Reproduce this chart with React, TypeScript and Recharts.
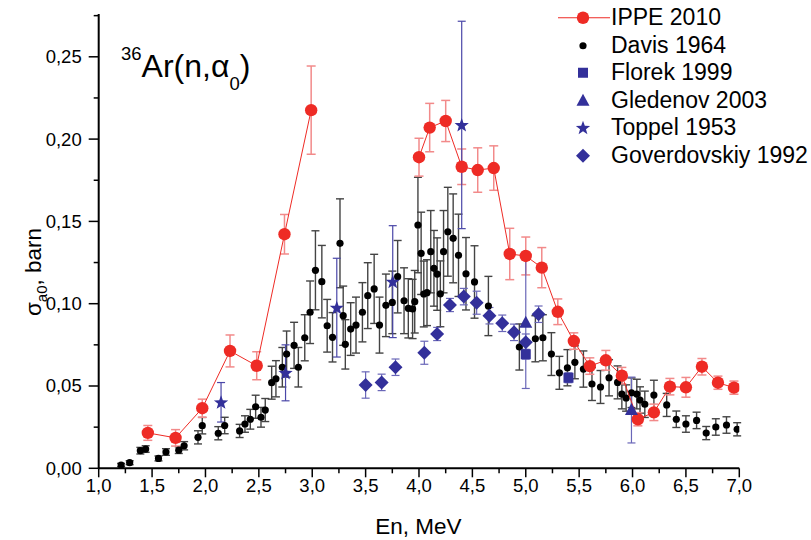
import React from "react"
import { ErrorBar, Scatter, ScatterChart, XAxis, YAxis } from "recharts"

// points: [En (MeV), sigma (barn), error]
const ippeLow = [
  [1.46, 0.0215, 0.0045], [1.72, 0.0185, 0.005], [1.97, 0.0365, 0.0055], [2.23, 0.0713, 0.0097],
  [2.48, 0.0623, 0.0085], [2.74, 0.1422, 0.012], [2.99, 0.2176, 0.0268],
]
const ippeHigh = [
  [4.0, 0.189, 0.0115], [4.1, 0.207, 0.0147], [4.25, 0.211, 0.0125], [4.4, 0.1832, 0.0108],
  [4.55, 0.1812, 0.0135], [4.7, 0.1824, 0.0135], [4.85, 0.1302, 0.0156], [5.0, 0.129, 0.0115],
  [5.15, 0.1219, 0.0122], [5.3, 0.0951, 0.0078], [5.45, 0.0773, 0.005], [5.6, 0.0621, 0.005],
  [5.75, 0.0656, 0.006], [5.9, 0.0563, 0.005], [6.05, 0.0298, 0.004], [6.2, 0.034, 0.005],
  [6.35, 0.0496, 0.005], [6.5, 0.0492, 0.006], [6.65, 0.0617, 0.005], [6.8, 0.052, 0.004],
  [6.95, 0.049, 0.004],
]
const davis = [
  [1.21, 0.002, 0.001], [1.29, 0.0034, 0.0012], [1.39, 0.0107, 0.002], [1.44, 0.0117, 0.002],
  [1.56, 0.006, 0.0015], [1.63, 0.0099, 0.002], [1.75, 0.011, 0.002], [1.8, 0.0137, 0.0025],
  [1.93, 0.0188, 0.004], [1.97, 0.0259, 0.005], [2.12, 0.0213, 0.004], [2.18, 0.026, 0.005],
  [2.32, 0.0227, 0.004], [2.37, 0.0269, 0.005], [2.42, 0.0298, 0.006], [2.47, 0.0374, 0.007],
  [2.52, 0.031, 0.006], [2.56, 0.0354, 0.007], [2.62, 0.052, 0.01], [2.66, 0.0544, 0.011],
  [2.72, 0.0614, 0.012], [2.76, 0.0694, 0.014], [2.83, 0.0747, 0.014], [2.87, 0.0614, 0.012],
  [2.93, 0.0793, 0.014], [2.98, 0.0948, 0.019], [3.03, 0.1203, 0.024], [3.09, 0.1134, 0.022],
  [3.14, 0.0866, 0.016], [3.19, 0.0796, 0.015], [3.26, 0.1367, 0.027], [3.29, 0.0927, 0.018],
  [3.31, 0.0753, 0.015], [3.36, 0.0846, 0.016], [3.41, 0.087, 0.017], [3.47, 0.0948, 0.018],
  [3.52, 0.1049, 0.02], [3.58, 0.109, 0.021], [3.63, 0.087, 0.017], [3.69, 0.099, 0.019],
  [3.75, 0.1008, 0.019], [3.8, 0.1164, 0.022], [3.86, 0.1018, 0.02], [3.9, 0.0972, 0.018],
  [3.94, 0.0968, 0.018], [3.96, 0.1012, 0.019], [3.99, 0.1478, 0.029], [4.02, 0.1306, 0.025],
  [4.045, 0.1059, 0.02], [4.075, 0.1067, 0.02], [4.11, 0.1316, 0.025], [4.14, 0.1215, 0.023],
  [4.17, 0.118, 0.022], [4.2, 0.106, 0.02], [4.23, 0.1316, 0.025], [4.27, 0.1437, 0.027],
  [4.32, 0.1397, 0.027], [4.37, 0.1294, 0.025], [4.44, 0.1182, 0.022], [4.52, 0.1132, 0.022],
  [4.65, 0.0986, 0.018], [4.94, 0.0737, 0.014], [5.09, 0.0787, 0.014], [5.16, 0.0793, 0.014],
  [5.24, 0.0694, 0.013], [5.315, 0.058, 0.01], [5.39, 0.0611, 0.011], [5.46, 0.0644, 0.01],
  [5.54, 0.0603, 0.011], [5.62, 0.0512, 0.01], [5.7, 0.0494, 0.01], [5.78, 0.055, 0.011],
  [5.86, 0.0522, 0.01], [5.9, 0.0451, 0.009], [5.94, 0.0427, 0.008], [5.99, 0.0459, 0.009],
  [6.04, 0.0451, 0.009], [6.07, 0.0415, 0.008], [6.115, 0.0389, 0.008], [6.2, 0.0445, 0.009],
  [6.32, 0.0385, 0.007], [6.41, 0.0298, 0.005], [6.5, 0.0269, 0.005], [6.6, 0.0291, 0.005],
  [6.69, 0.0214, 0.004], [6.78, 0.0251, 0.005], [6.88, 0.0263, 0.005], [6.98, 0.0237, 0.004],
]
const florek = [[5.0, 0.0693, 0.003], [5.4, 0.055, 0.003]]
const gledenov = [[5.0, 0.0885, 0.04], [5.99, 0.0354, 0.02]]
const toppel = [[2.146, 0.0401, 0.012], [2.75, 0.058, 0.017], [3.23, 0.0976, 0.03], [3.754, 0.1134, 0.034], [4.4, 0.2086, 0.063]]
const goverdovskiy = [
  [3.5, 0.0506, 0.008], [3.65, 0.0522, 0.005], [3.78, 0.0614, 0.005], [4.05, 0.0702, 0.007],
  [4.17, 0.0816, 0.004], [4.29, 0.0992, 0.004], [4.42, 0.1043, 0.005], [4.54, 0.1006, 0.007],
  [4.66, 0.0927, 0.005], [4.78, 0.0881, 0.005], [4.89, 0.0826, 0.005], [5.0, 0.0766, 0.005],
  [5.12, 0.0936, 0.005],
]

const xTicks = [1, 1.25, 1.5, 1.75, 2, 2.25, 2.5, 2.75, 3, 3.25, 3.5, 3.75, 4, 4.25, 4.5, 4.75, 5, 5.25, 5.5, 5.75, 6, 6.25, 6.5, 6.75, 7]
const yTicks = [0, 0.025, 0.05, 0.075, 0.1, 0.125, 0.15, 0.175, 0.2, 0.225, 0.25, 0.275]

const legendItems = [
  { name: "IPPE 2010", shape: "ippe" },
  { name: "Davis 1964", shape: "dot" },
  { name: "Florek 1999", shape: "square" },
  { name: "Gledenov 2003", shape: "triangle" },
  { name: "Toppel 1953", shape: "star" },
  { name: "Goverdovskiy 1992", shape: "diamond" },
]

const FONT = "'Liberation Sans', Arial, sans-serif"
const RED = "#ee2b25"
const BLUE = "#33309a"

const rows = (pts: number[][]) => pts.map(([x, y, e]) => ({ x, y, e }))

const starPoints = (cx: number, cy: number, R: number, r: number) => {
  const p: string[] = []
  for (let i = 0; i < 10; i++) {
    const rad = i % 2 === 0 ? R : r
    const a = -Math.PI / 2 + (i * Math.PI) / 5
    p.push(`${cx + rad * Math.cos(a)},${cy + rad * Math.sin(a)}`)
  }
  return p.join(" ")
}

function Marker({ kind, cx, cy }: { kind: string; cx: number; cy: number }) {
  switch (kind) {
    case "ippe":
      return <circle cx={cx} cy={cy} r={6.2} fill={RED} />
    case "dot":
      return <circle cx={cx} cy={cy} r={3.6} fill="#000" />
    case "square":
      return <rect x={cx - 5} y={cy - 5} width={10} height={10} fill={BLUE} />
    case "triangle":
      return <polygon points={`${cx},${cy - 7} ${cx + 6.5},${cy + 5} ${cx - 6.5},${cy + 5}`} fill={BLUE} />
    case "star":
      return <polygon points={starPoints(cx, cy + 0.5, 7.5, 3.1)} fill={BLUE} />
    default:
      return <polygon points={`${cx},${cy - 7} ${cx + 7},${cy} ${cx},${cy + 7} ${cx - 7},${cy}`} fill={BLUE} />
  }
}

const shapeOf = (kind: string) => (p: any) => <Marker kind={kind} cx={p.cx} cy={p.cy} />

const isMajor = (v: number, step: number) => Math.abs(v / step - Math.round(v / step)) < 1e-6

function XTick(props: any) {
  const { x, y, payload } = props
  const major = isMajor(payload.value, 0.5)
  return (
    <g>
      <line x1={x} x2={x} y1={y} y2={y + (major ? 9 : 5)} stroke="#000" strokeWidth={1.5} />
      {major && (
        <text x={x} y={y + 23.5} textAnchor="middle" fontSize={18.5} fontFamily={FONT} fill="#000">
          {payload.value.toFixed(1).replace(".", ",")}
        </text>
      )}
    </g>
  )
}

function YTick(props: any) {
  const { x, y, payload } = props
  const major = isMajor(payload.value, 0.05)
  return (
    <g>
      <line x1={x} x2={x - (major ? 10 : 5)} y1={y} y2={y} stroke="#000" strokeWidth={1.5} />
      {major && (
        <text x={x - 17} y={y} dy="0.35em" textAnchor="end" fontSize={18.5} fontFamily={FONT} fill="#000">
          {payload.value.toFixed(2).replace(".", ",")}
        </text>
      )}
    </g>
  )
}

function LegendBox() {
  return (
    <div style={{ position: "absolute", left: 555, top: 4, fontFamily: FONT, fontSize: 23, color: "#000" }}>
      {legendItems.map((it) => (
        <div key={it.name} style={{ display: "flex", alignItems: "center", height: 27.5 }}>
          <svg width={56} height={27.5} style={{ display: "block" }}>
            {it.shape === "ippe" && <line x1={3} x2={55} y1={13.75} y2={13.75} stroke={RED} strokeWidth={1} />}
            <Marker kind={it.shape} cx={28} cy={13.75} />
          </svg>
          <span style={{ whiteSpace: "nowrap", lineHeight: "27.5px" }}>{it.name}</span>
        </div>
      ))}
    </div>
  )
}

export default function App() {
  return (
    <div style={{ position: "absolute", left: 0, top: 0, width: 811, height: 540, background: "#fff" }}>
      <ScatterChart width={811} height={540} margin={{ top: 14, right: 71.7, bottom: 41.7, left: 58 }}>
        <XAxis
          type="number"
          dataKey="x"
          domain={[1, 7]}
          ticks={xTicks}
          interval={0}
          tickSize={0}
          tickMargin={0}
          tickLine={false}
          tick={<XTick />}
          height={30}
          axisLine={{ stroke: "#000", strokeWidth: 2 }}
          allowDataOverflow
        />
        <YAxis
          type="number"
          dataKey="y"
          domain={[0, 0.276]}
          ticks={yTicks}
          interval={0}
          tickSize={0}
          tickMargin={0}
          tickLine={false}
          tick={<YTick />}
          width={40.7}
          axisLine={{ stroke: "#000", strokeWidth: 2 }}
          allowDataOverflow
        />
        <Scatter name="Davis 1964" data={rows(davis)} shape={shapeOf("dot")} isAnimationActive={false}>
          <ErrorBar dataKey="e" direction="y" width={4} stroke="#444" strokeWidth={1.4} isAnimationActive={false} />
        </Scatter>
        <Scatter name="IPPE 2010" data={rows(ippeLow)} shape={shapeOf("ippe")} fill={RED}
          line={{ stroke: RED, strokeWidth: 1 }} lineType="joint" isAnimationActive={false}>
          <ErrorBar dataKey="e" direction="y" width={4.5} stroke="#f28a8a" strokeWidth={1.5} isAnimationActive={false} />
        </Scatter>
        <Scatter name="IPPE 2010 b" data={rows(ippeHigh)} shape={shapeOf("ippe")} fill={RED}
          line={{ stroke: RED, strokeWidth: 1 }} lineType="joint" isAnimationActive={false}>
          <ErrorBar dataKey="e" direction="y" width={4.5} stroke="#f28a8a" strokeWidth={1.5} isAnimationActive={false} />
        </Scatter>
        <Scatter name="Goverdovskiy 1992" data={rows(goverdovskiy)} shape={shapeOf("diamond")} isAnimationActive={false}>
          <ErrorBar dataKey="e" direction="y" width={4} stroke="#6a67b8" strokeWidth={1.2} isAnimationActive={false} />
        </Scatter>
        <Scatter name="Florek 1999" data={rows(florek)} shape={shapeOf("square")} isAnimationActive={false}>
          <ErrorBar dataKey="e" direction="y" width={4} stroke="#6a67b8" strokeWidth={1.2} isAnimationActive={false} />
        </Scatter>
        <Scatter name="Gledenov 2003" data={rows(gledenov)} shape={shapeOf("triangle")} isAnimationActive={false}>
          <ErrorBar dataKey="e" direction="y" width={4} stroke="#6a67b8" strokeWidth={1.2} isAnimationActive={false} />
        </Scatter>
        <Scatter name="Toppel 1953" data={rows(toppel)} shape={shapeOf("star")} isAnimationActive={false}>
          <ErrorBar dataKey="e" direction="y" width={4} stroke="#4a47a8" strokeWidth={1.2} isAnimationActive={false} />
        </Scatter>
      </ScatterChart>
      <svg width={811} height={540} style={{ position: "absolute", left: 0, top: 0, pointerEvents: "none" }}>
        <text x={121} y={77} fontFamily={FONT} fontSize={32} fill="#000">
          <tspan fontSize={18.5} dy={-17}>36</tspan>
          <tspan dy={17}>Ar(n,α</tspan>
          <tspan fontSize={18.5} dy={13}>0</tspan>
          <tspan dy={-13}>)</tspan>
        </text>
        <text x={418.5} y={534} textAnchor="middle" fontFamily={FONT} fontSize={22.5} fill="#000">En, MeV</text>
        <text transform="translate(41, 272) rotate(-90)" textAnchor="middle" fontFamily={FONT} fontSize={22.5} fill="#000">
          σ<tspan fontSize={15} dy={6}>a0</tspan><tspan dy={-6}>, barn</tspan>
        </text>
      </svg>
      <LegendBox />
    </div>
  )
}
